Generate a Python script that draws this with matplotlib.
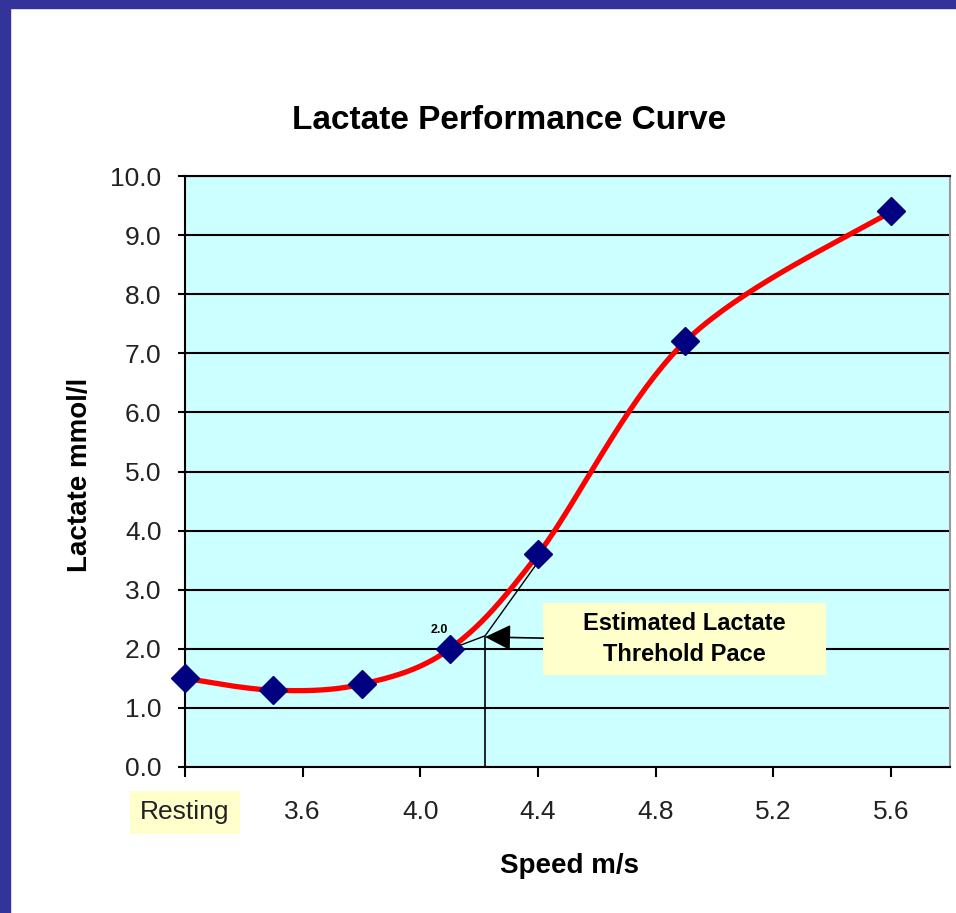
import numpy as np
import matplotlib.pyplot as plt
from matplotlib.patches import Rectangle

plt.rcParams['font.family'] = ['Liberation Sans', 'DejaVu Sans']

# data
speed = [3.2, 3.5, 3.8, 4.1, 4.4, 4.9, 5.6]
lactate = [1.5, 1.3, 1.4, 2.0, 3.6, 7.2, 9.4]
xticks = [3.2, 3.6, 4.0, 4.4, 4.8, 5.2, 5.6]
xticklabels = ['Resting', '3.6', '4.0', '4.4', '4.8', '5.2', '5.6']
yticks = np.arange(0, 11, 1)

# threshold annotation
thr_speed = 4.22
thr_lactate = 2.2
tangent_x = [4.12, 4.22, 4.40]
tangent_y = [2.03, 2.22, 3.47]


def smooth(xs, ys, n=40):
    # excel-like smoothed line (catmull-rom bezier)
    p = np.column_stack([xs, ys]).astype(float)
    p = np.vstack([p[0], p, p[-1]])
    out = []
    t = np.linspace(0, 1, n)[:, None]
    for i in range(1, len(p) - 2):
        p0, p1, p2, p3 = p[i - 1], p[i], p[i + 1], p[i + 2]
        c1 = p1 + (p2 - p0) / 6
        c2 = p2 - (p3 - p1) / 6
        seg = ((1 - t) ** 3) * p1 + 3 * ((1 - t) ** 2) * t * c1 + 3 * (1 - t) * t ** 2 * c2 + t ** 3 * p2
        out.append(seg)
    out = np.vstack(out)
    return out[:, 0], out[:, 1]


fig = plt.figure(figsize=(9.56, 9.13), dpi=100)
fig.patch.set_facecolor('white')
# dark blue slide border
fig.patches.append(Rectangle((0, 0), 10 / 956, 1, transform=fig.transFigure, color='#333399', zorder=0))
fig.patches.append(Rectangle((0, 1 - 8 / 913), 1, 8 / 913, transform=fig.transFigure, color='#333399', zorder=0))

ax = fig.add_axes([185 / 956, 1 - 767 / 913, (950 - 185) / 956, (767 - 176) / 913])
ax.set_facecolor('#CCFFFF')

sx, sy = smooth(speed, lactate)
ax.plot(sx, sy, color='#FF0000', lw=3.8, zorder=3, clip_on=False)
ax.plot(speed, lactate, ls='none', marker='D', ms=14, color='#000080', zorder=4, clip_on=False)

ax.set_xlim(3.2, 5.8)
ax.set_ylim(0, 10)
ax.set_xticks(xticks)
ax.set_xticklabels(xticklabels)
ax.set_yticks(yticks)
ax.set_yticklabels([f'{v:.1f}' for v in yticks])
ax.yaxis.grid(True, color='black', lw=1.5)
ax.set_axisbelow(True)

ax.tick_params(axis='x', length=7, width=1.5, pad=17, labelsize=19, colors='black', labelcolor='#222222')
ax.tick_params(axis='y', length=5, width=1.5, pad=12, labelsize=19, colors='black', labelcolor='#222222')
ax.get_xticklabels()[0].set_bbox(dict(facecolor='#FFFFCC', edgecolor='none', pad=7))

for s in ['left', 'bottom']:
    ax.spines[s].set_linewidth(1.5)
ax.spines['top'].set_color('black')
ax.spines['top'].set_linewidth(1.5)
ax.spines['right'].set_color('#999999')
ax.spines['right'].set_linewidth(1.5)

# threshold markings
ax.plot(tangent_x, tangent_y, color='black', lw=1, zorder=3)
ax.plot([thr_speed, thr_speed], [0, thr_lactate], color='black', lw=1.2, zorder=3)
ax.text(4.064, 2.32, '2.0', fontsize=9, fontweight='bold', ha='center', va='center', zorder=5)

box_x0, box_x1 = 4.418, 5.377
box_y0, box_y1 = 1.557, 2.775
ax.add_patch(Rectangle((box_x0, box_y0), box_x1 - box_x0, box_y1 - box_y0,
                       facecolor='#FFFFCC', edgecolor='none', zorder=5))
ax.text((box_x0 + box_x1) / 2, (box_y0 + box_y1) / 2, 'Estimated Lactate\nThrehold Pace',
        fontsize=17, fontweight='bold', ha='center', va='center', linespacing=1.45, zorder=6)
ax.annotate('', xy=(thr_speed, thr_lactate), xytext=(box_x0, 2.18),
            arrowprops=dict(arrowstyle='-|>,head_length=0.8,head_width=0.4', color='black',
                            lw=1.2, shrinkA=0, shrinkB=0, mutation_scale=20), zorder=6)

fig.text(0.533, 1 - 120 / 913, 'Lactate Performance Curve', fontsize=24, fontweight='bold',
         ha='center', va='center')
fig.text(570 / 956, 1 - 866 / 913, 'Speed m/s', fontsize=20, fontweight='bold', ha='center', va='center')
fig.text(80 / 956, 1 - 475 / 913, 'Lactate mmol/l', fontsize=20, fontweight='bold', ha='center',
         va='center', rotation=90)

plt.savefig('out.png', dpi=100)
